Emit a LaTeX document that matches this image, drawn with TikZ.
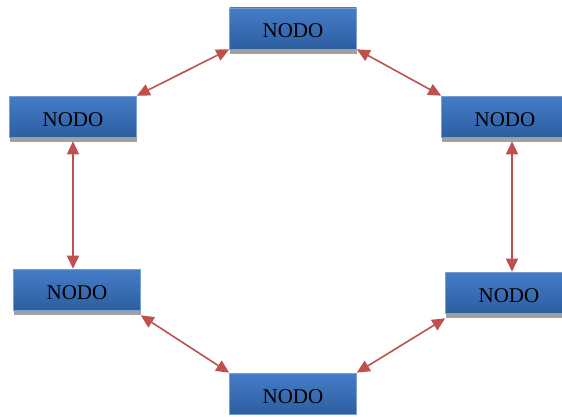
\documentclass[tikz,border=0pt]{standalone}
\usepackage{fontspec}
\setmainfont{Liberation Serif}
\usetikzlibrary{arrows.meta}
\definecolor{boxtop}{RGB}{70,125,200}
\definecolor{boxbot}{RGB}{44,94,160}
\definecolor{boxedge}{RGB}{120,160,215}
\definecolor{linkred}{RGB}{192,80,77}
\definecolor{shadowgrey}{RGB}{160,160,160}
\tikzset{
  nodebox/.style={rectangle, minimum width=127pt, minimum height=41pt,
    inner sep=0pt, top color=boxtop, bottom color=boxbot, draw=boxedge,
    line width=0.6pt, font=\fontsize{21}{24}\selectfont, text=black,
    text height=19pt, text depth=0pt},
  link/.style={draw=linkred, line width=1.6pt,
    {Triangle[length=13pt,width=12pt]}-{Triangle[length=13pt,width=12pt]}}
}
\begin{document}
\begin{tikzpicture}[x=1pt,y=1pt]
\useasboundingbox (0,0) rectangle (562,416);
\begin{scope}
\clip (0,0) rectangle (562,416);
% shadows under the boxes
\fill[shadowgrey] (229.5,366) rectangle (356.5,362);
\fill[shadowgrey] (9.5,279) rectangle (136.5,274);
\fill[shadowgrey] (441.5,279) rectangle (568.5,274);
\fill[shadowgrey] (13.5,106) rectangle (140.5,101);
\fill[shadowgrey] (445.5,103) rectangle (572.5,98);
% boxes
\node[nodebox] (top) at (293,387.5) {NODO};
\node[nodebox] (lu) at (73,299.5) {NODO};
\node[nodebox] (ru) at (505,299.5) {NODO};
\node[nodebox] (ll) at (77,126.5) {NODO};
\node[nodebox] (rl) at (509,123.5) {NODO};
\node[nodebox] (bot) at (293,22.5) {NODO};
\end{scope}
% links between neighbouring boxes
\draw[link] (top.south west) -- (lu.north east);
\draw[link] (top.south east) -- (ru.north west);
\draw[link] ([yshift=-4pt]lu.south) -- (ll.north -| lu.south);
\draw[link] ([yshift=-4pt]ru.south -| 512,0) -- (rl.north -| 512,0);
\draw[link] ([yshift=-5pt]ll.south east) -- (bot.north west);
\draw[link] ([yshift=-5pt]rl.south west) -- (bot.north east);
\end{tikzpicture}
\end{document}
